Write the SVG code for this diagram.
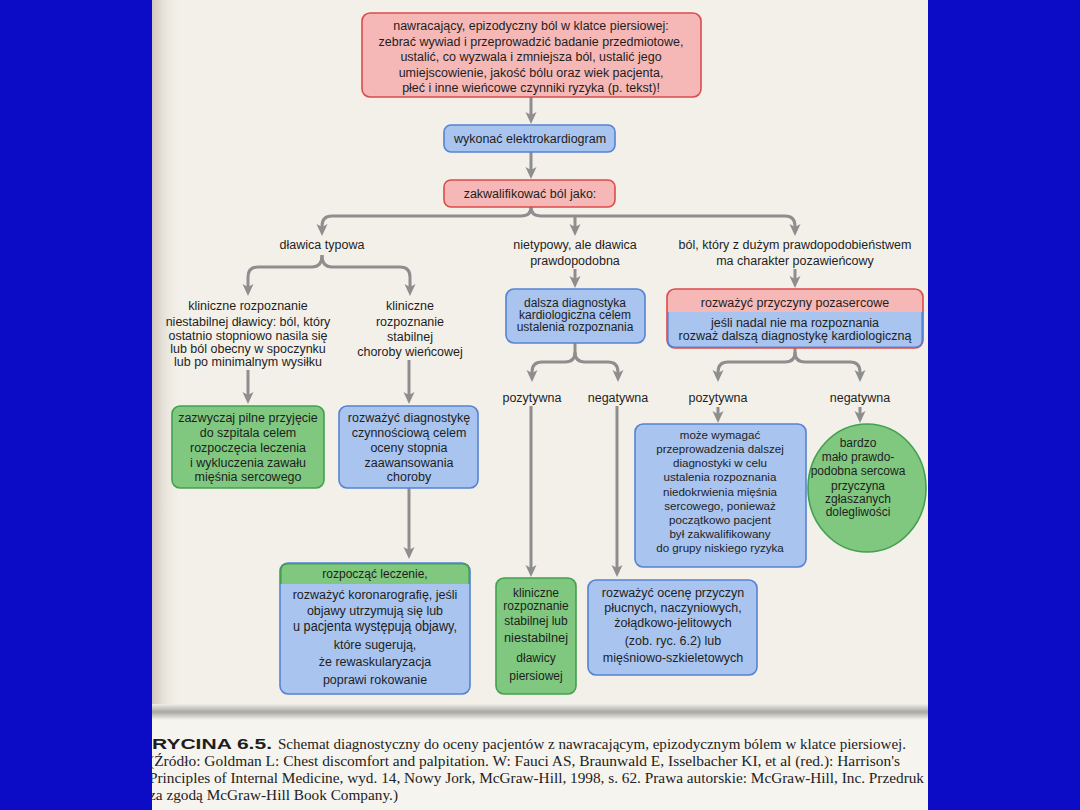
<svg xmlns="http://www.w3.org/2000/svg" width="1080" height="810" viewBox="0 0 1080 810">
<defs>
<style>
.pink{fill:#f5b8b7;stroke:#dc4b4b;stroke-width:1.6}
.blue{fill:#a9c4ee;stroke:#5582d2;stroke-width:1.6}
.green{fill:#80c880;stroke:#43a04e;stroke-width:1.6}
.hpink{fill:#f5b8b7}
.hgreen{fill:#80c880}
.frame{fill:none;stroke-width:1.6}
.t{font-family:"Liberation Sans",Arial,sans-serif;font-size:12.5px;fill:#1e1e1e;text-anchor:middle}
.s{font-size:12px}
.xs{font-size:11.6px}
.cap{font-family:"Liberation Serif","Times New Roman",serif;font-size:14px;fill:#222}
.conn{fill:none;stroke:#8e8e8e;stroke-width:3}
</style>
<marker id="ah" viewBox="0 0 12 12" markerWidth="12" markerHeight="12" markerUnits="userSpaceOnUse" refX="8" refY="6" orient="auto">
<path d="M0,0.5 L12,6 L0,11.5 L3,6 Z" fill="#8e8e8e"/>
</marker>
<linearGradient id="shadowL" x1="0" y1="0" x2="1" y2="0">
<stop offset="0" stop-color="#cfc8bd"/>
<stop offset="1" stop-color="#f3f0e9" stop-opacity="0"/>
</linearGradient>
<linearGradient id="fold" x1="0" y1="0" x2="0" y2="1">
<stop offset="0" stop-color="#f0ede6"/>
<stop offset="0.5" stop-color="#a9a7a3"/>
<stop offset="1" stop-color="#f6f4ef"/>
</linearGradient>
</defs>

<!-- page -->
<rect x="0" y="0" width="1080" height="810" fill="#0c0cc6"/>
<rect x="152" y="0" width="776" height="810" fill="#f3f0e9"/>
<rect x="152" y="0" width="30" height="710" fill="url(#shadowL)"/>
<rect x="152" y="704" width="776" height="16" fill="url(#fold)"/>
<rect x="152" y="720" width="776" height="90" fill="#f6f4ef"/>

<!-- connectors -->
<g id="connectors" marker-end="url(#ah)">
<path class="conn" d="M531,97 L531,120"/>
<path class="conn" d="M531,152 L531,175"/>
<path class="conn" d="M531,207 Q531,216 521,216 L332,216 Q322,216 322,226 L322,232"/>
<path class="conn" d="M531,207 Q531,216 541,216 L785,216 Q795,216 795,226 L795,232"/>
<path class="conn" d="M575,216 L575,232"/>
<path class="conn" d="M322,255 Q322,267 312,267 L258,267 Q248,267 248,277 L248,292"/>
<path class="conn" d="M322,255 Q322,267 332,267 L400,267 Q410,267 410,277 L410,292"/>
<path class="conn" d="M248,370 L248,400"/>
<path class="conn" d="M409,360 L409,400"/>
<path class="conn" d="M575,269 L575,284"/>
<path class="conn" d="M795,269 L795,284"/>
<path class="conn" d="M575,343 L575,352 Q575,362 565,362 L542,362 Q532,362 532,372 L532,378"/>
<path class="conn" d="M575,352 Q575,362 585,362 L608,362 Q618,362 618,372 L618,378"/>
<path class="conn" d="M795,348 L795,352 Q795,362 785,362 L728,362 Q718,362 718,372 L718,378"/>
<path class="conn" d="M795,352 Q795,362 805,362 L850,362 Q860,362 860,372 L860,378"/>
<path class="conn" d="M531,406 L531,573"/>
<path class="conn" d="M617,406 L617,573"/>
<path class="conn" d="M718,407 L718,419"/>
<path class="conn" d="M860,407 L860,419"/>
<path class="conn" d="M409,488 L409,555"/>
</g>

<!-- nodes -->
<g id="n_top">
<rect class="pink" x="362" y="13" width="339" height="84" rx="8"/>
<text class="t" x="531" y="30">nawracający, epizodyczny ból w klatce piersiowej:</text>
<text class="t" x="531" y="45.5">zebrać wywiad i przeprowadzić badanie przedmiotowe,</text>
<text class="t" x="531" y="61">ustalić, co wyzwala i zmniejsza ból, ustalić jego</text>
<text class="t" x="531" y="76.5">umiejscowienie, jakość bólu oraz wiek pacjenta,</text>
<text class="t" x="531" y="92">płeć i inne wieńcowe czynniki ryzyka (p. tekst)!</text>
</g>

<g id="n_ekg">
<rect class="blue" x="444" y="125" width="171" height="27" rx="7"/>
<text class="t" x="530" y="143">wykonać elektrokardiogram</text>
</g>

<g id="n_classify">
<rect class="pink" x="444" y="180" width="171" height="27" rx="7"/>
<text class="t" x="530" y="198">zakwalifikować ból jako:</text>
</g>

<g id="n_typical">
<text class="t" x="322" y="249">dławica typowa</text>
</g>

<g id="n_atypical">
<text class="t" x="575" y="249">nietypowy, ale dławica</text>
<text class="t" x="575" y="265">prawdopodobna</text>
</g>

<g id="n_noncardiac_label">
<text class="t" x="795" y="249">ból, który z dużym prawdopodobieństwem</text>
<text class="t" x="795" y="265">ma charakter pozawieńcowy</text>
</g>

<g id="n_unstable">
<text class="t" x="248" y="310">kliniczne rozpoznanie</text>
<text class="t" x="248" y="326">niestabilnej dławicy: ból, który</text>
<text class="t" x="248" y="340">ostatnio stopniowo nasila się</text>
<text class="t" x="248" y="353">lub ból obecny w spoczynku</text>
<text class="t" x="248" y="366">lub po minimalnym wysiłku</text>
</g>

<g id="n_stable">
<text class="t" x="410" y="310">kliniczne</text>
<text class="t" x="410" y="326">rozpoznanie</text>
<text class="t" x="410" y="341">stabilnej</text>
<text class="t" x="410" y="356">choroby wieńcowej</text>
</g>

<g id="n_urgent">
<rect class="green" x="172" y="406" width="152" height="82" rx="8"/>
<text class="t" x="248" y="422">zazwyczaj pilne przyjęcie</text>
<text class="t" x="248" y="437">do szpitala celem</text>
<text class="t" x="248" y="452">rozpoczęcia leczenia</text>
<text class="t" x="248" y="467">i wykluczenia zawału</text>
<text class="t" x="248" y="481">mięśnia sercowego</text>
</g>

<g id="n_functional">
<rect class="blue" x="339" y="406" width="139" height="82" rx="8"/>
<text class="t" x="409" y="422">rozważyć diagnostykę</text>
<text class="t" x="409" y="437">czynnościową celem</text>
<text class="t" x="409" y="452">oceny stopnia</text>
<text class="t" x="409" y="467">zaawansowania</text>
<text class="t" x="409" y="481">choroby</text>
</g>

<g id="n_further">
<rect class="blue" x="506" y="289" width="139" height="54" rx="8"/>
<text class="t s" x="575" y="307">dalsza diagnostyka</text>
<text class="t s" x="575" y="319">kardiologiczna celem</text>
<text class="t s" x="575" y="331">ustalenia rozpoznania</text>
</g>

<g id="n_noncardiac">
<rect x="667" y="289" width="256" height="59" rx="8" fill="#a9c4ee"/>
<path class="hpink" d="M667,312 L667,297 Q667,289 675,289 L915,289 Q923,289 923,297 L923,312 Z"/>
<rect class="frame" x="667" y="289" width="256" height="59" rx="8" stroke="#dc4b4b"/>
<path d="M667.8,312 L667.8,340 Q667.8,347.2 675,347.2 L915,347.2 Q922.2,347.2 922.2,340 L922.2,312" fill="none" stroke="#5582d2" stroke-width="1.6"/>
<text class="t" x="795" y="307">rozważyć przyczyny pozasercowe</text>
<text class="t" x="795" y="327">jeśli nadal nie ma rozpoznania</text>
<text class="t" x="795" y="340">rozważ dalszą diagnostykę kardiologiczną</text>
</g>

<g id="n_labels_results">
<text class="t" x="532" y="402">pozytywna</text>
<text class="t" x="618" y="402">negatywna</text>
<text class="t" x="718" y="402">pozytywna</text>
<text class="t" x="860" y="402">negatywna</text>
</g>

<g id="n_may_require">
<rect class="blue" x="635" y="424" width="171" height="143" rx="8"/>
<text class="t xs" x="720" y="439">może wymagać</text>
<text class="t xs" x="720" y="453">przeprowadzenia dalszej</text>
<text class="t xs" x="720" y="467">diagnostyki w celu</text>
<text class="t xs" x="720" y="481">ustalenia rozpoznania</text>
<text class="t xs" x="720" y="496">niedokrwienia mięśnia</text>
<text class="t xs" x="720" y="510">sercowego, ponieważ</text>
<text class="t xs" x="720" y="524">początkowo pacjent</text>
<text class="t xs" x="720" y="538">był zakwalifikowany</text>
<text class="t xs" x="720" y="552">do grupy niskiego ryzyka</text>
</g>

<g id="n_unlikely">
<ellipse class="green" cx="867" cy="488" rx="59" ry="64"/>
<text class="t s" x="858" y="447">bardzo</text>
<text class="t s" x="858" y="461">mało prawdo-</text>
<text class="t s" x="858" y="475">podobna sercowa</text>
<text class="t s" x="858" y="490">przyczyna</text>
<text class="t s" x="858" y="503">zgłaszanych</text>
<text class="t s" x="858" y="516">dolegliwości</text>
</g>

<g id="n_start">
<rect x="280" y="563" width="190" height="131" rx="8" fill="#a9c4ee"/>
<path class="hgreen" d="M280,584 L280,571 Q280,563 288,563 L462,563 Q470,563 470,571 L470,584 Z"/>
<rect class="frame" x="280" y="563" width="190" height="131" rx="8" stroke="#5582d2"/>
<path d="M280.8,584 L280.8,571 Q280.8,563.8 288,563.8 L462,563.8 Q469.2,563.8 469.2,571 L469.2,584" fill="none" stroke="#43a04e" stroke-width="1.6"/>
<text class="t s" x="375" y="578">rozpocząć leczenie,</text>
<text class="t" x="375" y="599">rozważyć koronarografię, jeśli</text>
<text class="t" x="375" y="615">objawy utrzymują się lub</text>
<text class="t" x="375" y="631" style="font-size:14px" textLength="164" lengthAdjust="spacingAndGlyphs">u pacjenta występują objawy,</text>
<text class="t" x="375" y="649">które sugerują,</text>
<text class="t" x="375" y="666">że rewaskularyzacja</text>
<text class="t" x="375" y="684">poprawi rokowanie</text>
</g>

<g id="n_clinical">
<rect class="green" x="496" y="578" width="80" height="116" rx="8"/>
<text class="t s" x="536" y="597">kliniczne</text>
<text class="t s" x="536" y="610">rozpoznanie</text>
<text class="t s" x="536" y="625">stabilnej lub</text>
<text class="t" x="536" y="642" style="font-size:13px" textLength="64" lengthAdjust="spacingAndGlyphs">niestabilnej</text>
<text class="t s" x="536" y="662">dławicy</text>
<text class="t s" x="536" y="680">piersiowej</text>
</g>

<g id="n_other">
<rect class="blue" x="588" y="580" width="169" height="95" rx="8"/>
<text class="t" x="673" y="597">rozważyć ocenę przyczyn</text>
<text class="t" x="673" y="612">płucnych, naczyniowych,</text>
<text class="t" x="673" y="627">żołądkowo-jelitowych</text>
<text class="t" x="673" y="645">(zob. ryc. 6.2) lub</text>
<text class="t" x="673" y="662">mięśniowo-szkieletowych</text>
</g>

<!-- caption -->
<g id="caption">
<text x="152" y="749" font-family="'Liberation Sans',Arial,sans-serif" font-size="15.5" font-weight="bold" fill="#1e1e1e" textLength="120" lengthAdjust="spacingAndGlyphs">RYCINA 6.5.</text>
<text class="cap" x="278" y="749" textLength="628" lengthAdjust="spacingAndGlyphs">Schemat diagnostyczny do oceny pacjentów z nawracającym, epizodycznym bólem w klatce piersiowej.</text>
<text class="cap" x="149" y="766" textLength="751" lengthAdjust="spacingAndGlyphs">(Źródło: Goldman L: Chest discomfort and palpitation. W: Fauci AS, Braunwald E, Isselbacher KI, et al (red.): Harrison's</text>
<text class="cap" x="149" y="783" textLength="775" lengthAdjust="spacingAndGlyphs">Principles of Internal Medicine, wyd. 14, Nowy Jork, McGraw-Hill, 1998, s. 62. Prawa autorskie: McGraw-Hill, Inc. Przedruk</text>
<text class="cap" x="149" y="800" textLength="249" lengthAdjust="spacingAndGlyphs">za zgodą McGraw-Hill Book Company.)</text>
</g>

<!-- blue side borders -->
<rect x="0" y="0" width="152" height="810" fill="#0c0cc6"/>
<rect x="928" y="0" width="152" height="810" fill="#0c0cc6"/>
</svg>
